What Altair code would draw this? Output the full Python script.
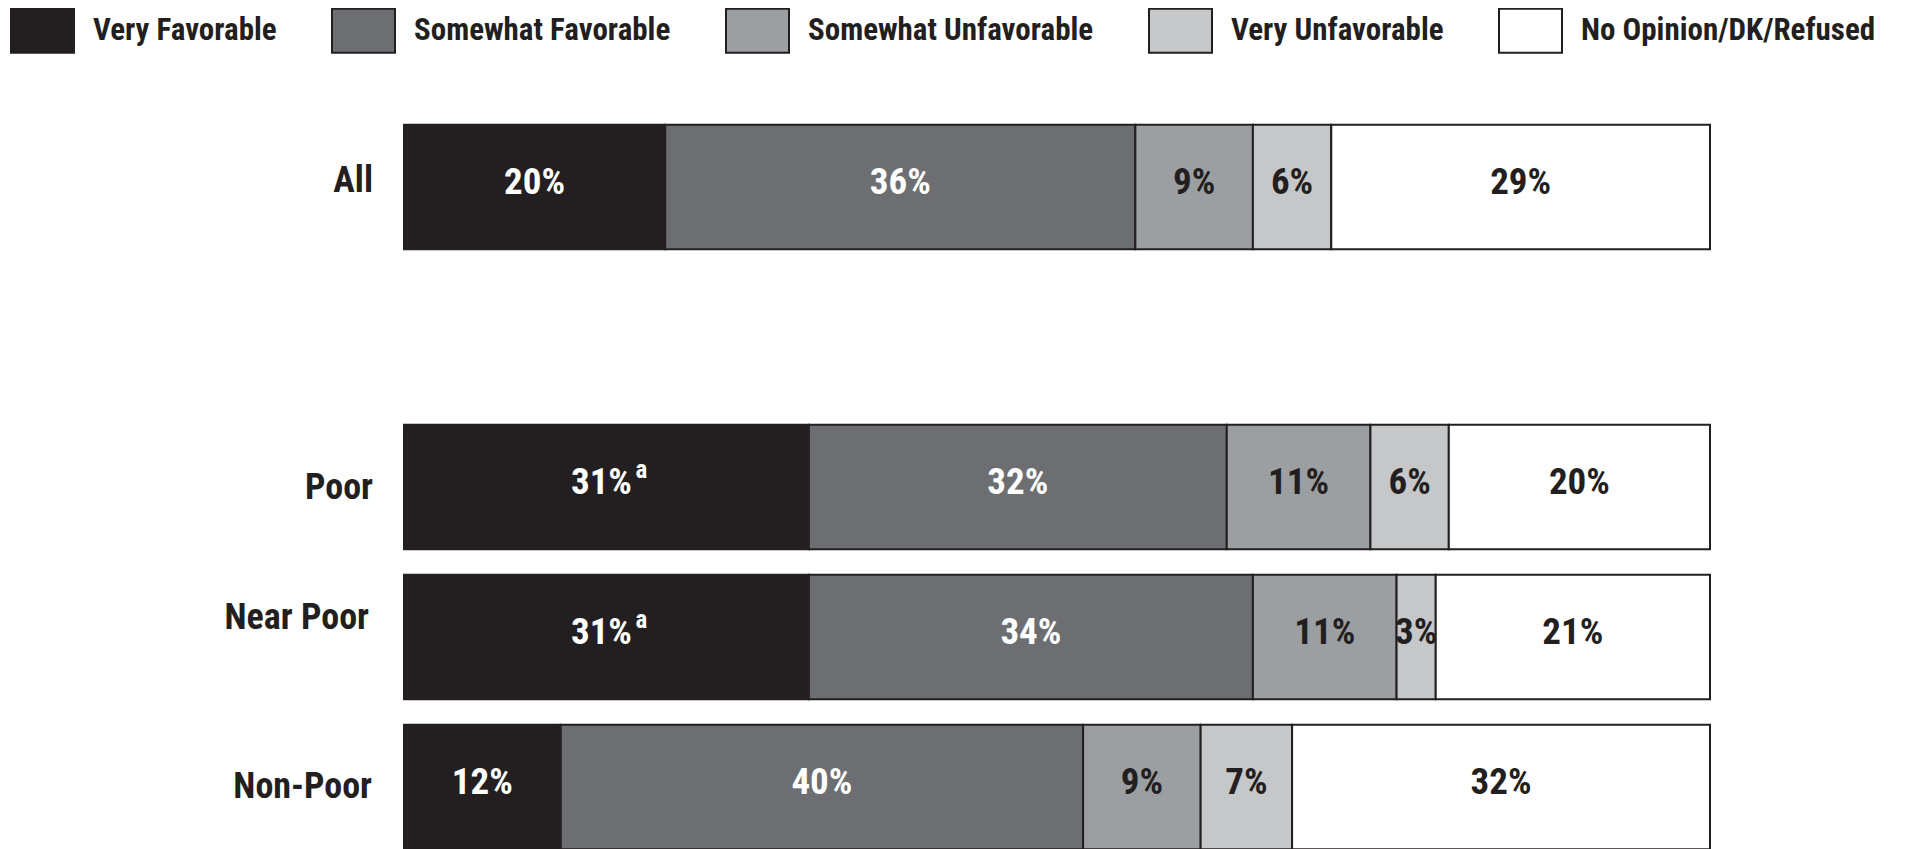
import altair as alt
import pandas as pd

groups = ["All", "Poor", "Near Poor", "Non-Poor"]
y_domain = ["All", " ", "Poor", "Near Poor", "Non-Poor"]
categories = ["Very Favorable", "Somewhat Favorable", "Somewhat Unfavorable",
              "Very Unfavorable", "No Opinion/DK/Refused"]
colors = ["#231f20", "#6d6e71", "#9c9fa2", "#c6c7c9", "#ffffff"]

all_vals = [20, 36, 9, 6, 29]
poor_vals = [31, 32, 11, 6, 20]
near_poor_vals = [31, 34, 11, 3, 21]
non_poor_vals = [12, 40, 9, 7, 32]
footnotes = {("Poor", "Very Favorable"): "a", ("Near Poor", "Very Favorable"): "a"}

series = [all_vals, poor_vals, near_poor_vals, non_poor_vals]
rows = []
for g, vals in zip(groups, series):
    for i, (c, v) in enumerate(zip(categories, vals)):
        rows.append({"group": g, "category": c, "order": i, "value": v,
                     "label": f"{v}%", "note": footnotes.get((g, c), "")})
df = pd.DataFrame(rows)

FONT = "'Roboto Condensed', 'Liberation Sans Narrow', 'Arial Narrow', 'Liberation Sans', Arial, sans-serif"
DARK = "#231f20"

base = alt.Chart(df).transform_stack(
    stack="value", groupby=["group"], sort=[alt.SortField("order")], as_=["x0", "x1"]
).transform_calculate(mid="(datum.x0 + datum.x1) / 2")

yenc = alt.Y("group:N", scale=alt.Scale(domain=y_domain, paddingInner=0.17, paddingOuter=0.085), axis=None)
xscale = alt.Scale(domain=[0, 100], nice=False, zero=True)

bars = base.mark_bar(stroke=DARK, strokeWidth=2, opacity=1).encode(
    x=alt.X("x0:Q", scale=xscale, axis=None),
    x2="x1:Q",
    y=yenc,
    fill=alt.Fill("category:N", scale=alt.Scale(domain=categories, range=colors),
                  legend=alt.Legend(
                      orient="none", legendX=-394, legendY=-114, direction="horizontal",
                      columns=5, title=None,
                      symbolType="M-1,-0.7L1,-0.7L1,0.7L-1,0.7Z", symbolSize=3969,
                      symbolStrokeColor=DARK, symbolStrokeWidth=2, symbolOpacity=1,
                      labelFont=FONT, labelFontSize=31, labelFontWeight="bold",
                      labelColor=DARK, labelOffset=18, columnPadding=51, padding=0,
                      labelLimit=500)),
)

text_color = alt.condition(
    alt.FieldOneOfPredicate(field="category", oneOf=categories[:2]),
    alt.value("white"), alt.value(DARK))

plain = base.transform_filter("datum.note == ''").mark_text(
    font=FONT, fontSize=37, fontWeight="bold", dy=-4, baseline="middle").encode(
    x=alt.X("mid:Q", scale=xscale),
    y=yenc,
    text="label:N",
    color=text_color,
)

noted = base.transform_filter("datum.note != ''").mark_text(
    font=FONT, fontSize=37, fontWeight="bold", dx=-5, dy=-4, baseline="middle").encode(
    x=alt.X("mid:Q", scale=xscale),
    y=yenc,
    text="label:N",
    color=text_color,
)

notes = base.transform_filter("datum.note != ''").mark_text(
    font=FONT, fontSize=25, fontWeight="bold", dx=29, dy=-17, align="left", baseline="middle"
).encode(
    x=alt.X("mid:Q", scale=xscale),
    y=yenc,
    text="note:N",
    color=text_color,
)

cat_df = pd.DataFrame({"group": groups})
cat_dy = {"All": -6, "Poor": 1, "Near Poor": -19, "Non-Poor": 0}
cat_dx = {"All": -31, "Poor": -31, "Near Poor": -35, "Non-Poor": -32}
cat_layers = [
    alt.Chart(cat_df).transform_filter(alt.FieldEqualPredicate(field="group", equal=g)).mark_text(
        font=FONT, fontSize=36, fontWeight="bold", align="right", baseline="middle",
        color=DARK, dy=cat_dy[g]
    ).encode(x=alt.value(cat_dx[g]), y=yenc, text="group:N")
    for g in groups
]

chart = alt.layer(bars, plain, noted, notes, *cat_layers).properties(
    width=1306, height=750,
    autosize=alt.AutoSizeParams(type="none"),
    padding={"left": 396, "top": 104, "right": 190, "bottom": 0},
    background="white",
).configure_view(stroke=None)

chart.save("out.html", embed_options={"renderer": "svg", "actions": False})
